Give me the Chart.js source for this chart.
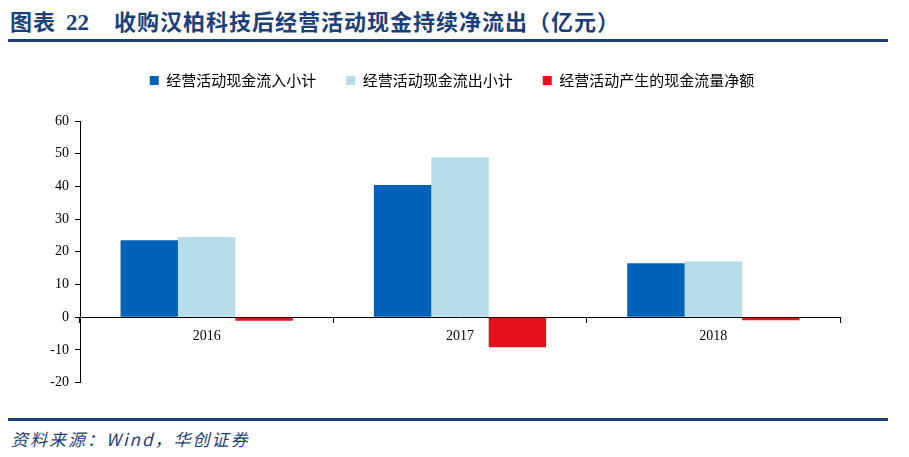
<!DOCTYPE html>
<html>
<head>
<meta charset="utf-8">
<script src="https://cdn.jsdelivr.net/npm/chart.js@4"></script>
<style>
  body { margin: 0; background: #fff; width: 909px; height: 457px; position: relative; overflow: hidden; }
  #title { position: absolute; left: 10px; top: 4px; font: bold 22px "Noto Sans CJK SC", serif; color: #1b3f7b; white-space: pre; letter-spacing: 1px; }
  #title .num { margin-left: 10px; margin-right: 25px; letter-spacing: 0; font-family: "Liberation Serif", serif; font-size: 23px; }
  .rule { position: absolute; left: 8px; width: 880px; height: 3px; background: #1b3f7b; }
  #src { position: absolute; left: 11px; top: 426px; font: italic 17px "Noto Sans CJK SC", "Liberation Serif", serif; color: #1b3f7b; letter-spacing: 2px; }
  #box { position: absolute; left: 0; top: 43px; width: 909px; height: 354px; }
</style>
</head>
<body>
<div id="title">图表<span class="num">22</span>收购汉柏科技后经营活动现金持续净流出（亿元）</div>
<div class="rule" style="top:39px"></div>
<div id="box"><canvas id="c"></canvas></div>
<div class="rule" style="top:418px"></div>
<div id="src">资料来源：Wind，华创证券</div>
<script>
// 年份
const years = ["2016", "2017", "2018"];
// 经营活动现金流入小计
const inflow = [23.5, 40.4, 16.5];
// 经营活动现金流出小计
const outflow = [24.5, 48.9, 17.1];
// 经营活动产生的现金流量净额
const netFlow = [-1.1, -9.2, -0.9];

const data = {
    labels: years,
    datasets: [
        { label: "经营活动现金流入小计", backgroundColor: "rgb(0, 98, 184)", data: inflow },
        { label: "经营活动现金流出小计", backgroundColor: "rgb(183, 221, 232)", data: outflow },
        { label: "经营活动产生的现金流量净额", backgroundColor: "rgb(228, 16, 26)", data: netFlow },
    ],
};

// fast høyde på legend, og flytt den litt til høyre (midt på siden)
const legendPlace = {
    id: "legendPlace",
    afterInit(chart) {
        const fit = chart.legend.fit;
        chart.legend.fit = function () {
            fit.call(this);
            this.height = 78;
        };
    },
    afterLayout(chart) {
        chart.legend.left = 64;
    },
};

const config = {
    type: "bar",
    data: data,
    plugins: [legendPlace],
    options: {
        responsive: true,
        maintainAspectRatio: false,
        animation: false,
        layout: { padding: { left: 0, right: 69, top: 0, bottom: 0 } },
        datasets: { bar: { categoryPercentage: 0.68, barPercentage: 1.0 } },
        plugins: {
            legend: {
                position: "top",
                labels: {
                    boxWidth: 9, boxHeight: 9, padding: 30, color: "#000",
                    font: { family: "Noto Sans CJK SC", size: 15 },
                },
            },
            tooltip: { enabled: false },
        },
        scales: {
            x: {
                position: { y: 0 },
                grid: { drawOnChartArea: false, offset: true, tickLength: 5, color: "#000" },
                border: { color: "#000" },
                ticks: { color: "#000", font: { family: "Liberation Serif", size: 14 }, padding: 6 },
            },
            y: {
                min: -20, max: 60,
                afterFit: (s) => { s.width = 80; },
                grid: { drawOnChartArea: false, tickLength: 5, color: "#000" },
                border: { color: "#000" },
                ticks: { stepSize: 10, color: "#000", font: { family: "Liberation Serif", size: 14 }, padding: 6 },
            },
        },
    },
};

const myChart = new Chart(document.getElementById("c"), config);
</script>
</body>
</html>
